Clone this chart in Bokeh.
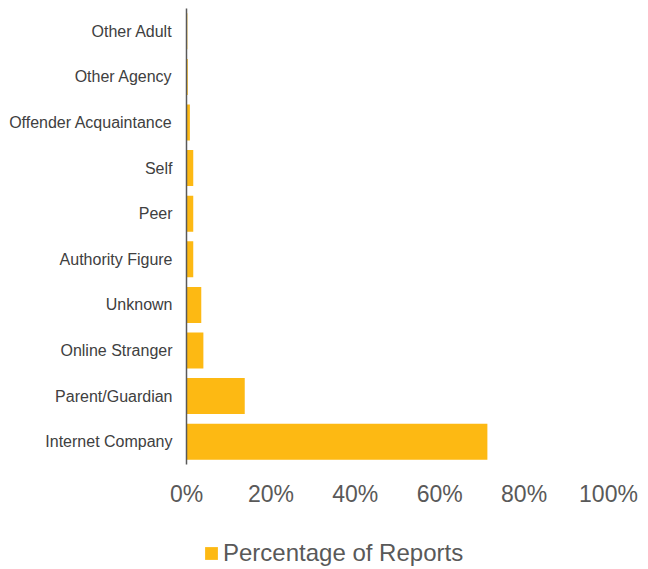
from bokeh.plotting import figure
from bokeh.layouts import column
from bokeh.models import FactorRange, Range1d, FixedTicker, PrintfTickFormatter, Legend, LegendItem, ColumnDataSource
from bokeh.embed import file_html
from bokeh.resources import INLINE

categories = ["Internet Company", "Parent/Guardian", "Online Stranger", "Unknown",
              "Authority Figure", "Peer", "Self", "Offender Acquaintance",
              "Other Agency", "Other Adult"]
percentages = [71.3, 13.8, 4.0, 3.5, 1.6, 1.6, 1.6, 0.8, 0.3, 0.2]
x_ticks = [0, 20, 40, 60, 80, 100]
series_name = "Percentage of Reports"

FONT = "Liberation Sans"
BAR = "#FDB913"
GREY = "#595959"
DARK = "#404040"

src = ColumnDataSource(dict(cat=categories, val=percentages))

p = figure(width=648, height=509, output_backend="svg", toolbar_location=None,
           y_range=FactorRange(factors=categories), x_range=Range1d(0, 100),
           min_border_left=186, min_border_right=40, min_border_top=8, min_border_bottom=43)
p.outline_line_color = None
p.grid.grid_line_color = None

r = p.hbar(y="cat", right="val", left=0, height=0.79, source=src, color=BAR, line_color=None)

yax = p.yaxis[0]
yax.axis_line_color = GREY
yax.axis_line_width = 1.5
yax.major_tick_line_color = None
yax.minor_tick_line_color = None
yax.major_label_text_font = FONT
yax.major_label_text_font_size = "16px"
yax.major_label_text_color = DARK
yax.major_label_standoff = 8

xax = p.xaxis[0]
xax.axis_line_color = None
xax.major_tick_line_color = None
xax.minor_tick_line_color = None
xax.ticker = FixedTicker(ticks=x_ticks)
xax.formatter = PrintfTickFormatter(format="%d%%")
xax.major_label_text_font = FONT
xax.major_label_text_font_size = "23px"
xax.major_label_text_color = GREY
xax.major_label_standoff = 10

# legend strip below the chart: same series glyph, but no bars shown in this strip
lp = figure(width=648, height=60, output_backend="svg", toolbar_location=None,
            x_range=Range1d(0, 100), y_range=FactorRange(factors=[series_name]),
            min_border_left=186, min_border_right=40, min_border_top=0, min_border_bottom=0)
lp.outline_line_color = None
lp.axis.visible = False
lp.grid.grid_line_color = None
key = lp.hbar(y="cat", right="val", left=0, height=0.79, source=src, color=BAR, line_color=None)
legend = Legend(items=[LegendItem(label=series_name, renderers=[key])],
                location=(17, 2), padding=0, margin=0, spacing=0,
                glyph_width=16, glyph_height=16, label_standoff=4,
                label_text_font=FONT, label_text_font_size="24px",
                label_text_color=GREY, border_line_color=None,
                background_fill_alpha=0)
lp.add_layout(legend, "center")

layout = column(p, lp, spacing=0)
open("out.html", "w").write(file_html(layout, INLINE))
